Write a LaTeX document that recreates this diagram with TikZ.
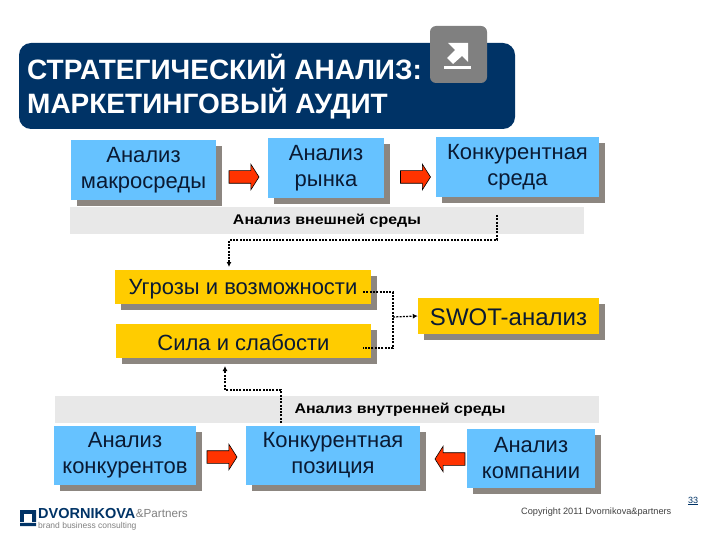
\documentclass[tikz,border=0pt]{standalone}
\usepackage{fontspec}
\setmainfont{Liberation Sans}
\newfontfamily\bandfont[FakeStretch=1.14]{Liberation Sans}
\usetikzlibrary{shapes.arrows,shadows,arrows.meta}
\definecolor{titleblue}{HTML}{003366}
\definecolor{boxblue}{HTML}{66C2FF}
\definecolor{boxyellow}{HTML}{FFCC00}
\definecolor{shadowgrey}{HTML}{8C8680}
\definecolor{bandgrey}{HTML}{E8E8E8}
\definecolor{arrowred}{HTML}{FF3300}
\definecolor{textnavy}{HTML}{0A1A33}
\tikzset{
	panel/.style={rectangle, inner sep=0pt, align=center, text=textnavy, font=\fontsize{22}{25.5}\selectfont,
		execute at begin node={\rule{0pt}{20pt}},
		drop shadow={shadow xshift=6pt, shadow yshift=-6pt, fill=shadowgrey, opacity=1}},
	bluebox/.style={panel, fill=boxblue},
	yellowbox/.style={panel, fill=boxyellow},
	band/.style={rectangle, inner sep=0pt, fill=bandgrey},
	bandlabel/.style={font=\fontsize{14}{16}\selectfont\bandfont\bfseries, text=black, inner sep=0pt},
	redarrow/.style={single arrow, draw=black, fill=arrowred, line width=0.6pt, inner xsep=0pt, inner ysep=6pt,
		minimum width=25pt, minimum height=30pt, single arrow head extend=6.5pt, single arrow tip angle=115},
	dotline/.style={line width=1.3pt, dash pattern=on 2pt off 1.3pt, -{Latex[length=5pt,width=5pt]}},
	dotplain/.style={line width=1.3pt, dash pattern=on 2pt off 1.3pt}
}
\begin{document}
\begin{tikzpicture}[x=1pt, y=-1pt]
	\useasboundingbox (0,0) rectangle (720,540);

	% Titel
	\node[fill=titleblue, rounded corners=12pt, minimum width=496pt, minimum height=86pt, inner sep=0pt] (title) at (267,86) {};
	\node[anchor=west, inner sep=0pt, text=white, align=left, font=\fontsize{28}{34}\selectfont\bfseries] (titletext) at (27,87)
		{СТРАТЕГИЧЕСКИЙ АНАЛИЗ:\\МАРКЕТИНГОВЫЙ АУДИТ};

	% Symbol
	\node[fill=gray, rounded corners=6pt, minimum width=57pt, minimum height=57pt, inner sep=0pt] (icon) at (458.5,54.5) {};
	\fill[white] (448,43) -- (468,43) -- (468,62) -- (462,56) -- (453,64) -- (447,58) -- (455,50) -- cycle;
	\fill[white] (444,66) rectangle (471,69);

	% Aussen
	\node[band, minimum width=514pt, minimum height=27pt] (outerband) at (327,220.5) {};
	\node[bluebox, minimum width=145pt, minimum height=60pt] (macro) at (143.5,170) {Анализ\\макросреды};
	\node[bluebox, minimum width=116pt, minimum height=60pt] (market) at (326,168) {Анализ\\рынка};
	\node[bluebox, minimum width=163pt, minimum height=60pt] (compenv) at (517.5,167) {Конкурентная\\среда};
	\node[bandlabel] (outerlabel) at (327,221) {Анализ внешней среды};
	\node[redarrow] (arrowa) at (242,177) {};
	\node[redarrow] (arrowb) at (413.5,177) {};

	% Mitte
	\node[yellowbox, minimum width=256pt, minimum height=34pt] (threats) at (243,287) {Угрозы и возможности};
	\node[yellowbox, minimum width=255pt, minimum height=34pt] (strengths) at (243.5,341) {Сила и слабости};
	\node[yellowbox, minimum width=181pt, minimum height=36pt, font=\fontsize{24}{26}\selectfont] (swot) at (508.5,316) {SWOT-анализ};

	% Innen
	\node[band, minimum width=544pt, minimum height=27pt] (innerband) at (327,409.5) {};
	\node[bandlabel] (innerlabel) at (400,410) {Анализ внутренней среды};
	\node[bluebox, minimum width=142pt, minimum height=59pt] (rivals) at (125,455) {Анализ\\конкурентов};
	\node[bluebox, minimum width=174pt, minimum height=59pt] (position) at (333,455) {Конкурентная\\позиция};
	\node[bluebox, minimum width=128pt, minimum height=59pt] (company) at (531,458) {Анализ\\компании};
	\node[redarrow] (arrowc) at (220,457) {};
	\node[redarrow, shape border rotate=180] (arrowd) at (452,459) {};

	% Verbindungen
	\coordinate (outerstart) at (497,215);
	\coordinate (outerbend) at (497,240);
	\coordinate (threatsin) at (229,267);
	\coordinate (threatsout) at (363,292);
	\coordinate (strengthsout) at (363,348);
	\coordinate (joint) at (393,317);
	\coordinate (strengthsin) at (225,366);
	\coordinate (innerstart) at (281,423);
	\coordinate (innerbend) at (281,390);
	\draw[dotline] (outerstart) -- (outerbend) -| (threatsin);
	\draw[dotplain] (threatsout) -| (strengthsout -| joint) -- (strengthsout);
	\draw[dotline] (joint) -- (swot.west);
	\draw[dotline] (innerstart) -- (innerbend) -| (strengthsin);

	% Fuss
	\fill[titleblue] (20,510) rectangle (36,522) (20,523) rectangle (36,526);
	\fill[white] (24,514) rectangle (32,522);
	\node[anchor=west, inner sep=0pt, text=titleblue, font=\fontsize{14.5}{15}\selectfont\bfseries] (logoname) at (38,513.5) {DVORNIKOVA};
	\node[anchor=west, inner sep=0pt, text=gray, font=\fontsize{11.7}{12}\selectfont] (logopartners) at (logoname.east) {\&Partners};
	\node[anchor=west, inner sep=0pt, text=gray, font=\fontsize{8.5}{9}\selectfont] (logosub) at (38,526.5) {brand business consulting};
	\node[anchor=west, inner sep=0pt, text=darkgray, font=\fontsize{9.2}{10}\selectfont] (copyright) at (521,512) {Copyright 2011 Dvornikova\&partners};
	\node[inner sep=0pt, text=titleblue, font=\fontsize{9}{10}\selectfont] (pagenum) at (693,501) {\underline{33}};

\end{tikzpicture}
\end{document}
